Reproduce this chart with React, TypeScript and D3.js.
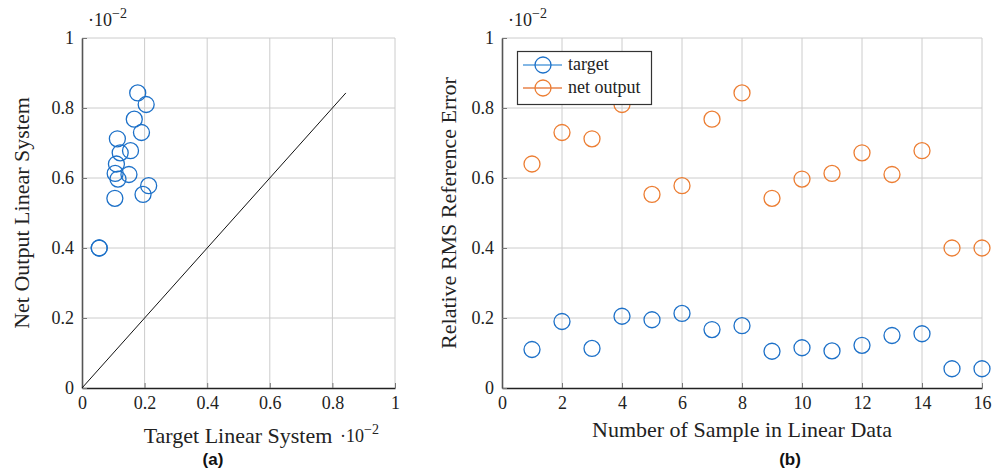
import React, { useEffect, useRef } from "react";
import * as d3 from "d3";

// sample index 1..16
const samples = d3.range(1, 17);
const targetVals = [0.11, 0.19, 0.113, 0.205, 0.195, 0.213, 0.167, 0.178, 0.105, 0.115, 0.106, 0.122, 0.15, 0.155, 0.055, 0.055];
const netOutputVals = [0.64, 0.73, 0.712, 0.81, 0.553, 0.578, 0.768, 0.843, 0.542, 0.597, 0.613, 0.672, 0.61, 0.678, 0.40, 0.40];
const unitTicks = [0, 0.2, 0.4, 0.6, 0.8, 1];
const sampleTicks = [0, 2, 4, 6, 8, 10, 12, 14, 16];

const BLUE = "#1c70c8";
const ORANGE = "#ec7d32";
const SERIF = "'Liberation Serif', 'Times New Roman', serif";

const App = () => {
  const svgRef = useRef<SVGSVGElement>(null);

  useEffect(() => {
    const svg = d3.select(svgRef.current);
    svg.selectAll("*").remove();

    const yTop = 38;
    const yBot = 388;

    const fmt = (d: number) => (d === 0 || d === 1 ? String(d) : d3.format(".1f")(d));

    const drawFrame = (g: any, x: any, y: any, xTicks: number[], xFmt: (d: number) => string) => {
      const [x0, x1] = x.range();
      // grid
      g.append("g")
        .selectAll("line")
        .data(xTicks.slice(1))
        .join("line")
        .attr("x1", (d: number) => x(d))
        .attr("x2", (d: number) => x(d))
        .attr("y1", yBot)
        .attr("y2", yTop)
        .attr("stroke", "#cccccc")
        .attr("stroke-width", 1);
      g.append("g")
        .selectAll("line")
        .data(unitTicks.slice(1))
        .join("line")
        .attr("x1", x0)
        .attr("x2", x1)
        .attr("y1", (d: number) => y(d))
        .attr("y2", (d: number) => y(d))
        .attr("stroke", "#cccccc")
        .attr("stroke-width", 1);

      // axes
      const ax = g
        .append("g")
        .attr("transform", `translate(0,${yBot})`)
        .call(d3.axisBottom(x).tickValues(xTicks).tickFormat(xFmt as any).tickSizeInner(-5).tickSizeOuter(0).tickPadding(8));
      const ay = g
        .append("g")
        .attr("transform", `translate(${x0},0)`)
        .call(d3.axisLeft(y).tickValues(unitTicks).tickFormat(fmt as any).tickSizeInner(-5).tickSizeOuter(0).tickPadding(8));
      [ax, ay].forEach((a) => {
        a.attr("font-family", null).attr("font-size", null);
        a.selectAll("text")
          .style("font-family", SERIF)
          .style("font-size", "18px")
          .attr("fill", "#222");
        a.selectAll(".tick line").attr("stroke", "#777");
      });
      ax.select(".domain").attr("stroke", "#222").attr("stroke-width", 1.3);
      ay.select(".domain").attr("stroke", "#555").attr("stroke-width", 1.6);
    };

    const circles = (g: any, pts: [number, number][], color: string) => {
      g.append("g")
        .selectAll("circle")
        .data(pts)
        .join("circle")
        .attr("cx", (d: [number, number]) => d[0])
        .attr("cy", (d: [number, number]) => d[1])
        .attr("r", 8)
        .attr("fill", "none")
        .attr("stroke", color)
        .attr("stroke-width", 1.3);
    };

    const text = (x: number, y: number, s: string, size: number, anchor = "middle", rot = 0) =>
      svg
        .append("text")
        .attr("transform", `translate(${x},${y}) rotate(${rot})`)
        .attr("text-anchor", anchor)
        .style("font-family", SERIF)
        .style("font-size", `${size}px`)
        .attr("fill", "#222")
        .text(s);

    const expo = (x: number, y: number) => {
      const t = svg
        .append("text")
        .attr("x", x)
        .attr("y", y)
        .style("font-family", SERIF)
        .style("font-size", "18px")
        .attr("fill", "#222");
      t.append("tspan").text("·10");
      t.append("tspan").attr("dy", -8).style("font-size", "14px").text("−2");
    };

    // ---------- (a) ----------
    const xa = d3.scaleLinear().domain([0, 1]).range([82, 395]);
    const ya = d3.scaleLinear().domain([0, 1]).range([yBot, yTop]);
    const ga = svg.append("g");
    drawFrame(ga, xa, ya, unitTicks, fmt);

    const maxVal = d3.max(netOutputVals) as number;
    ga.append("line")
      .attr("x1", xa(0))
      .attr("y1", ya(0))
      .attr("x2", xa(maxVal))
      .attr("y2", ya(maxVal))
      .attr("stroke", "#111")
      .attr("stroke-width", 1);

    circles(
      ga,
      targetVals.map((t, i) => [xa(t), ya(netOutputVals[i])] as [number, number]),
      BLUE
    );

    expo(88, 26);
    expo(340, 442);
    text(238, 443, "Target Linear System", 22);
    text(29, 213, "Net Output Linear System", 22, "middle", -90);

    // ---------- (b) ----------
    const xb = d3.scaleLinear().domain([0, 16]).range([502, 982]);
    const yb = d3.scaleLinear().domain([0, 1]).range([yBot, yTop]);
    const gb = svg.append("g");
    drawFrame(gb, xb, yb, sampleTicks, (d) => String(d));

    circles(gb, samples.map((s, i) => [xb(s), yb(targetVals[i])] as [number, number]), BLUE);
    circles(gb, samples.map((s, i) => [xb(s), yb(netOutputVals[i])] as [number, number]), ORANGE);

    expo(508, 26);
    text(742, 437, "Number of Sample in Linear Data", 22);
    text(456, 213, "Relative RMS Reference Error", 22, "middle", -90);

    // legend
    const lg = svg.append("g");
    lg.append("rect")
      .attr("x", 517.5)
      .attr("y", 51.5)
      .attr("width", 134)
      .attr("height", 53)
      .attr("fill", "white")
      .attr("stroke", "#333")
      .attr("stroke-width", 1.2);
    const entries: [string, string, string][] = [
      ["target", BLUE, "#5a9fdc"],
      ["net output", ORANGE, "#e8834a"],
    ];
    entries.forEach(([name, c, lc], i) => {
      const cy = 65 + i * 23;
      lg.append("line").attr("x1", 523).attr("x2", 562).attr("y1", cy).attr("y2", cy).attr("stroke", lc).attr("stroke-width", 1.3);
      lg.append("circle").attr("cx", 543).attr("cy", cy).attr("r", 8).attr("fill", "none").attr("stroke", c).attr("stroke-width", 1.3);
      lg.append("text")
        .attr("x", 568)
        .attr("y", cy + 5)
        .style("font-family", SERIF)
        .style("font-size", "18px")
        .attr("fill", "#222")
        .text(name);
    });

    // panel captions
    [
      [213, "(a)"],
      [790, "(b)"],
    ].forEach(([x, s]) =>
      svg
        .append("text")
        .attr("x", x as number)
        .attr("y", 465)
        .attr("text-anchor", "middle")
        .style("font-family", "'Liberation Sans', Arial, sans-serif")
        .style("font-weight", "bold")
        .style("font-size", "17px")
        .attr("fill", "#111")
        .text(s as string)
    );
  }, []);

  return (
    <svg
      ref={svgRef}
      width={1001}
      height={469}
      style={{ position: "absolute", left: 0, top: 0, background: "white" }}
    ></svg>
  );
};

export default App;
